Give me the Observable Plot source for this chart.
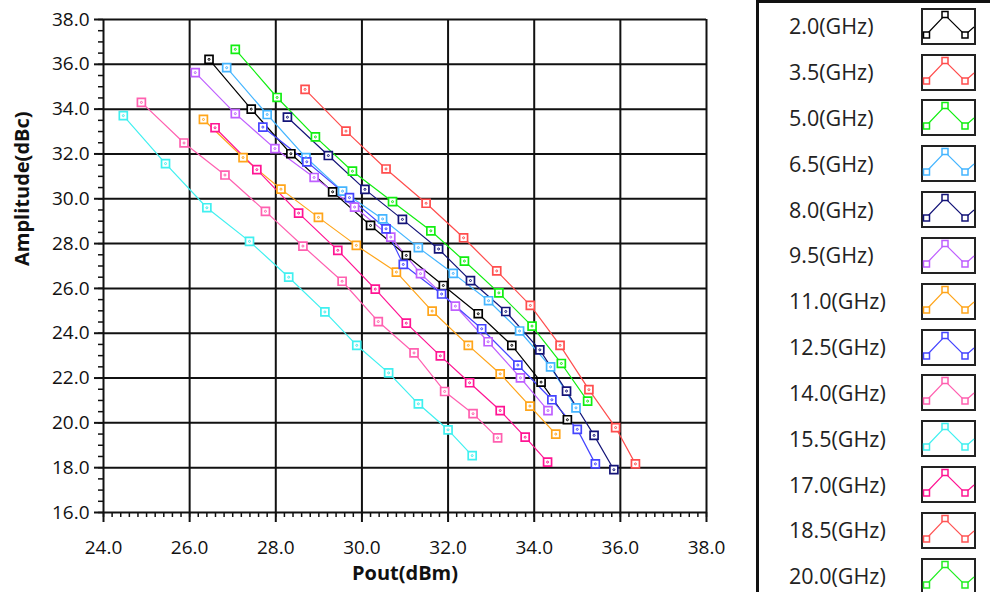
<!DOCTYPE html>
<html><head><meta charset="utf-8">
<script src="https://cdn.jsdelivr.net/npm/d3@7"></script>
<script src="https://cdn.jsdelivr.net/npm/@observablehq/plot@0.6"></script>
<style>
body{margin:0;background:#fff;}
#wrap{position:relative;width:990px;height:592px;overflow:hidden;background:#fff;}
#chart{position:absolute;left:0;top:0;}
#legend{position:absolute;left:756px;top:0;width:250px;height:600px;border-left:3px solid #111;border-top:3px solid #111;box-sizing:border-box;font-family:"Open Sans",sans-serif;}
.lab{position:absolute;left:30px;font-size:21.5px;color:#222;line-height:26px;}
.ico{position:absolute;left:162px;}
</style></head><body>
<div id="wrap"><div id="chart"></div><div id="legend"></div></div>
<script>
// Legend entries (frequency, GHz)
const freqs = ["2.0","3.5","5.0","6.5","8.0","9.5","11.0","12.5","14.0","15.5","17.0","18.5","20.0"];
const palette = ["#000000","#ff4d4d","#11ee11","#45b5ff","#141478","#bf5fff","#ffa51a","#4545ff","#ff60b0","#40f0f0","#ff1493","#ff5555","#22ee22"];

// Series values: Pout (dBm) and Amplitude (dBc)
const pout_2_0 = [26.45,27.43,28.35,29.32,30.20,31.03,31.89,32.70,33.48,34.16,34.77];
const amp_2_0  = [36.22,34.00,32.01,30.31,28.81,27.47,26.13,24.87,23.46,21.82,20.14];
const pout_3_5 = [28.68,29.63,30.56,31.49,32.36,33.13,33.91,34.60,35.27,35.89,36.35];
const amp_3_5  = [34.88,33.02,31.33,29.80,28.26,26.78,25.24,23.46,21.48,19.79,18.17];
const pout_5_0 = [27.06,28.03,28.92,29.78,30.71,31.60,32.38,33.18,33.95,34.63,35.24];
const amp_5_0  = [36.67,34.52,32.76,31.23,29.87,28.57,27.22,25.80,24.32,22.65,20.97];
const pout_6_5 = [26.86,27.80,28.70,29.55,30.48,31.31,32.12,32.94,33.66,34.38,34.97];
const amp_6_5  = [35.85,33.76,31.84,30.34,29.10,27.82,26.67,25.45,24.10,22.50,20.67];
const pout_8_0 = [28.27,29.22,30.07,30.94,31.78,32.52,33.34,34.13,34.75,35.39,35.85];
const amp_8_0  = [33.64,31.93,30.42,29.08,27.76,26.35,24.97,23.26,21.42,19.44,17.91];
const pout_9_5 = [26.13,27.06,27.98,28.89,29.83,30.67,31.36,32.17,32.93,33.68,34.32];
const amp_9_5  = [35.63,33.80,32.24,30.95,29.63,28.29,26.66,25.21,23.62,22.01,20.55];
const pout_11_0 = [26.32,27.24,28.12,28.99,29.87,30.80,31.63,32.47,33.21,33.90,34.50];
const amp_11_0  = [33.54,31.84,30.43,29.17,27.92,26.73,24.99,23.46,22.19,20.75,19.50];
const pout_12_5 = [27.70,28.72,29.71,30.56,30.96,31.85,32.78,33.62,34.41,35.00,35.42];
const amp_12_5  = [33.20,31.65,30.05,28.66,27.07,25.75,24.20,22.58,21.03,19.71,18.17];
const pout_14_0 = [24.88,25.87,26.82,27.76,28.63,29.54,30.38,31.21,31.92,32.58,33.15];
const amp_14_0  = [34.30,32.49,31.06,29.44,27.89,26.32,24.52,23.12,21.40,20.41,19.33];
const pout_15_5 = [24.46,25.44,26.40,27.39,28.30,29.14,29.88,30.62,31.31,32.00,32.56];
const amp_15_5  = [33.71,31.57,29.60,28.10,26.50,24.95,23.46,22.23,20.85,19.69,18.54];
const pout_17_0 = [26.59,27.56,28.53,29.44,30.31,31.03,31.82,32.50,33.21,33.79,34.31];
const amp_17_0  = [33.17,31.30,29.36,27.70,25.97,24.45,22.99,21.79,20.55,19.36,18.25];

// Axis ticks
const xTicks = [24,26,28,30,32,34,36,38];
const yTicks = [16,18,20,22,24,26,28,30,32,34,36,38];
const xMinor = d3.range(24, 38.001, 0.2).map(v => +v.toFixed(1));
const yMinor = d3.range(16, 38.001, 0.5).map(v => +v.toFixed(1));

const series = [
  ["2.0", pout_2_0, amp_2_0], ["3.5", pout_3_5, amp_3_5], ["5.0", pout_5_0, amp_5_0],
  ["6.5", pout_6_5, amp_6_5], ["8.0", pout_8_0, amp_8_0], ["9.5", pout_9_5, amp_9_5],
  ["11.0", pout_11_0, amp_11_0], ["12.5", pout_12_5, amp_12_5], ["14.0", pout_14_0, amp_14_0],
  ["15.5", pout_15_5, amp_15_5], ["17.0", pout_17_0, amp_17_0]
];
const rows = series.flatMap(([f, xs, ys]) => xs.map((x, i) => ({f, x, y: ys[i]})));
const fmt = d => d.toFixed(1);

const chart = Plot.plot({
  width: 756, height: 592,
  marginLeft: 103, marginRight: 50, marginTop: 19, marginBottom: 80,
  style: {fontFamily: "'Open Sans', sans-serif", fontSize: "19px", color: "#111", background: "transparent"},
  x: {domain: [24, 38], label: null},
  y: {domain: [16, 38], label: null},
  color: {domain: freqs, range: palette},
  marks: [
    Plot.ruleX(xTicks, {x: d => d, stroke: "#111", strokeWidth: 2}),
    Plot.ruleY(yTicks, {y: d => d, stroke: "#111", strokeWidth: 2}),
    Plot.axisX({ticks: xMinor, tickSize: 5, tickFormat: () => "", label: null, stroke: "#111", strokeWidth: 1.5}),
    Plot.axisX({ticks: xTicks, tickSize: 10, tickPadding: 18, tickFormat: fmt, label: null, stroke: "#111", strokeWidth: 2, fill: "#111"}),
    Plot.axisY({ticks: yMinor, tickSize: 5, tickFormat: () => "", label: null, stroke: "#111", strokeWidth: 1.5}),
    Plot.axisY({ticks: yTicks, tickSize: 9, tickPadding: 5, tickFormat: fmt, label: null, stroke: "#111", strokeWidth: 2, fill: "#111"}),
    Plot.line(rows, {x: "x", y: "y", z: "f", stroke: "f", strokeWidth: 1.2}),
    Plot.dot(rows, {x: "x", y: "y", stroke: "f", symbol: "square", r: 4.5, fill: "white", strokeWidth: 1.7}),
    Plot.dot(rows, {x: "x", y: "y", stroke: "f", r: 1, fill: "none", strokeWidth: 1}),
    Plot.text(["Pout(dBm)"], {frameAnchor: "bottom", dy: 67, fontWeight: "bold", fontSize: 20, fill: "#111"}),
    Plot.text(["Amplitude(dBc)"], {frameAnchor: "left", dx: -81, rotate: -90, fontWeight: "bold", fontSize: 20, fill: "#111"})
  ]
});
document.getElementById("chart").appendChild(chart);

// Legend
const legend = document.getElementById("legend");
freqs.forEach((f, i) => {
  const cy = 23.3 + 45.83 * i;
  const lab = document.createElement("div");
  lab.className = "lab";
  lab.style.top = (cy - 13) + "px";
  lab.textContent = f + "(GHz)";
  legend.appendChild(lab);
  const c = palette[i];
  const ico = document.createElement("div");
  ico.className = "ico";
  ico.style.top = (cy - 18.5) + "px";
  ico.innerHTML = `<svg width="56" height="38"><rect x="1" y="1" width="53" height="35" fill="white" stroke="#222" stroke-width="2"/>
    <polyline points="5,27 24,7 44,27 53,19" fill="none" stroke="${c}" stroke-width="1.2"/>
    <rect x="2.5" y="24" width="6" height="6" fill="white" stroke="${c}" stroke-width="1.5"/>
    <rect x="21" y="3.5" width="6" height="6" fill="white" stroke="${c}" stroke-width="1.5"/>
    <rect x="41" y="24" width="6" height="6" fill="white" stroke="${c}" stroke-width="1.5"/></svg>`;
  legend.appendChild(ico);
});
</script>
</body></html>
